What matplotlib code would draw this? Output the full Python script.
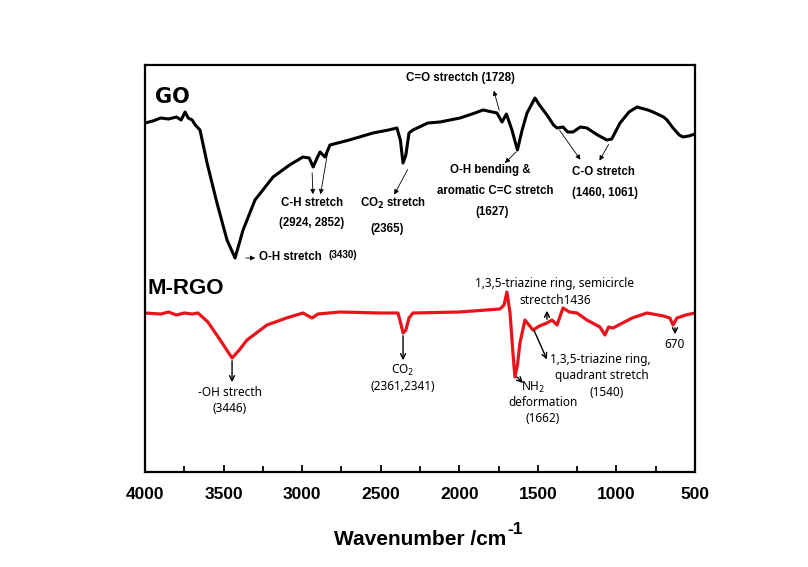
import matplotlib
matplotlib.use("Agg")
import matplotlib.pyplot as plt
import matplotlib.ticker as ticker
import numpy as np

# GO spectrum (wavenumber, transmittance in arbitrary units)
go_wn = [4000, 3950, 3900, 3850, 3800, 3770, 3745, 3725, 3700, 3680, 3650, 3605, 3542, 3478,
         3427, 3376, 3300, 3185, 3080, 2995, 2955, 2930, 2905, 2886, 2855, 2823, 2700, 2549,
         2450, 2397, 2375, 2358, 2340, 2320, 2295, 2200, 2123, 1995, 1900, 1849, 1790, 1760,
         1728, 1700, 1665, 1630, 1600, 1569, 1518, 1490, 1442, 1400, 1378, 1340, 1310, 1276,
         1230, 1188, 1120, 1061, 1030, 977, 920, 869, 800, 767, 700, 678, 640, 600, 576, 540, 500]
go_t = [349, 351, 354, 353, 355, 352, 360, 354, 352, 347, 342, 309, 269, 232,
        214, 242, 272, 295, 307, 315, 314, 305, 314, 320, 315, 327, 332, 339,
        342, 344, 332, 309, 317, 339, 342, 349, 350, 354, 359, 362, 360, 359,
        350, 358, 342, 322, 342, 359, 374, 367, 357, 347, 344, 345, 340, 340,
        345, 344, 337, 332, 333, 349, 360, 365, 362, 360, 355, 352, 344, 337, 335, 336, 338]

# M-RGO spectrum
mrgo_wn = [4000, 3900, 3850, 3800, 3750, 3700, 3663, 3600, 3530, 3446, 3400, 3351, 3224, 3100,
           2995, 2937, 2900, 2760, 2500, 2390, 2370, 2358, 2340, 2320, 2295, 2000, 1741, 1715,
           1697, 1677, 1660, 1646, 1630, 1614, 1582, 1531, 1490, 1442, 1410, 1378, 1340, 1300,
           1251, 1188, 1105, 1073, 1050, 1022, 900, 805, 700, 660, 640, 615, 560, 500]
mrgo_t = [159, 158, 160, 157, 159, 158, 159, 150, 134, 114, 122, 132, 147, 154,
          159, 154, 158, 160, 159, 159, 147, 139, 142, 154, 159, 160, 163, 167,
          180, 159, 122, 95, 107, 129, 152, 142, 146, 149, 152, 147, 164, 160,
          159, 152, 145, 137, 145, 144, 154, 159, 156, 154, 147, 154, 157, 159]

xticks = [4000, 3500, 3000, 2500, 2000, 1500, 1000, 500]

fig = plt.figure(figsize=(8.08, 5.67), dpi=100)
ax = fig.add_axes([145/808, 95/567, 550/808, 407/567])

ax.plot(go_wn, go_t, color='black', linewidth=2.2)
ax.plot(mrgo_wn, mrgo_t, color='#e8141c', linewidth=2.3)

ax.set_xlim(4000, 500)
ax.set_ylim(0, 407)
ax.set_yticks([])
ax.xaxis.set_major_locator(ticker.FixedLocator(xticks))
ax.xaxis.set_minor_locator(ticker.MultipleLocator(250))
ax.tick_params(axis='x', which='both', direction='in', top=False)
ax.tick_params(axis='x', which='major', length=5, width=1.3, pad=11)
ax.tick_params(axis='x', which='minor', length=4, width=1.3)
for s in ax.spines.values():
    s.set_linewidth(1.6)
for lab in ax.get_xticklabels():
    lab.set_fontfamily('Liberation Sans')
    lab.set_fontweight('bold')
    lab.set_fontsize(12.5)
xl = ax.set_xlabel('Wavenumber /cm', fontfamily='Liberation Sans',
                   fontweight='bold', fontsize=15, labelpad=20)
fig.canvas.draw()
bb = xl.get_window_extent()
fig.text((bb.x1 + 1) / 808, (bb.y1 + 1) / 567, '-1', fontfamily='Liberation Sans',
         fontweight='bold', fontsize=12.5, ha='left', va='center')

# sample labels
ax.text(3936, 375, 'GO', fontsize=15, fontweight='bold', fontfamily='DejaVu Sans',
        va='center', ha='left')
ax.text(3987, 184, 'M-RGO', fontsize=16, fontweight='bold', fontfamily='Liberation Sans',
        va='center', ha='left')

arr = dict(arrowstyle='-|>', color='black', lw=0.6, mutation_scale=7)
arr2 = dict(arrowstyle='->', color='black', lw=1.0, mutation_scale=9)

# GO annotations
g = dict(fontsize=8.3, fontweight='bold', fontfamily='Liberation Sans', ha='center', va='center')
ax.text(1995, 394, 'C=O strectch (1728)', **g)
ax.annotate('', xy=(1785, 384), xytext=(1741, 359), arrowprops=arr)
ax.annotate('', xy=(3281, 214), xytext=(3376, 214), arrowprops=arr)
ax.text(3275, 215, 'O-H stretch', fontsize=8.3, fontweight='bold', fontfamily='Liberation Sans',
        ha='left', va='center')
ax.text(2835, 217, '(3430)', fontsize=7, fontweight='bold', fontfamily='Liberation Sans',
        ha='left', va='center')
ax.text(2937, 269, 'C-H stretch', **g)
ax.text(2937, 249, '(2924, 2852)', **g)
ax.annotate('', xy=(2931, 275), xytext=(2937, 302), arrowprops=arr)
ax.annotate('', xy=(2886, 275), xytext=(2835, 322), arrowprops=arr)
ax.text(2422, 269, r'CO$_\mathbf{2}$ stretch', **g)
ax.text(2460, 243, '(2365)', **g)
ax.annotate('', xy=(2422, 275), xytext=(2320, 305), arrowprops=arr)
ax.text(1805, 302, 'O-H bending &', **g)
ax.text(1773, 281, 'aromatic C=C stretch', **g)
ax.text(1792, 260, '(1627)', **g)
ax.annotate('', xy=(1722, 307), xytext=(1626, 322), arrowprops=arr)
ax.text(1085, 300, 'C-O stretch', **g)
ax.text(1073, 279, '(1460, 1061)', **g)
ax.annotate('', xy=(1219, 310), xytext=(1372, 344), arrowprops=arr)
ax.annotate('', xy=(1117, 309), xytext=(1041, 330), arrowprops=arr)

# M-RGO annotations
m = dict(fontsize=8.5, fontfamily='Noto Sans', color='black', ha='center', va='center')
ax.text(3459, 80, '-OH strecth', **m)
ax.text(3459, 64, '(3446)', **m)
ax.annotate('', xy=(3446, 87), xytext=(3446, 114), arrowprops=arr2)
ax.text(2358, 102, r'CO$_2$', **m)
ax.text(2358, 85, '(2361,2341)', **m)
ax.annotate('', xy=(2358, 109), xytext=(2358, 139), arrowprops=arr2)
ax.text(1391, 189, '1,3,5-triazine ring, semicircle', **m)
ax.text(1391, 172, 'strectch1436', **m)
ax.annotate('', xy=(1442, 164), xytext=(1442, 150), arrowprops=arr2)
ax.text(1105, 112, '1,3,5-triazine ring,', **m)
ax.text(1092, 96, 'quadrant stretch', **m)
ax.text(1060, 79, '(1540)', **m)
ax.annotate('', xy=(1435, 110), xytext=(1531, 144), arrowprops=arr2)
ax.text(1531, 85, r'NH$_2$', **m)
ax.text(1467, 69, 'deformation', **m)
ax.text(1467, 54, '(1662)', **m)
ax.annotate('', xy=(1582, 87), xytext=(1646, 97), arrowprops=arr2)
ax.text(627, 127, '670', **m)
ax.annotate('', xy=(627, 135), xytext=(627, 147), arrowprops=arr2)

fig.savefig('out.png', dpi=100)
